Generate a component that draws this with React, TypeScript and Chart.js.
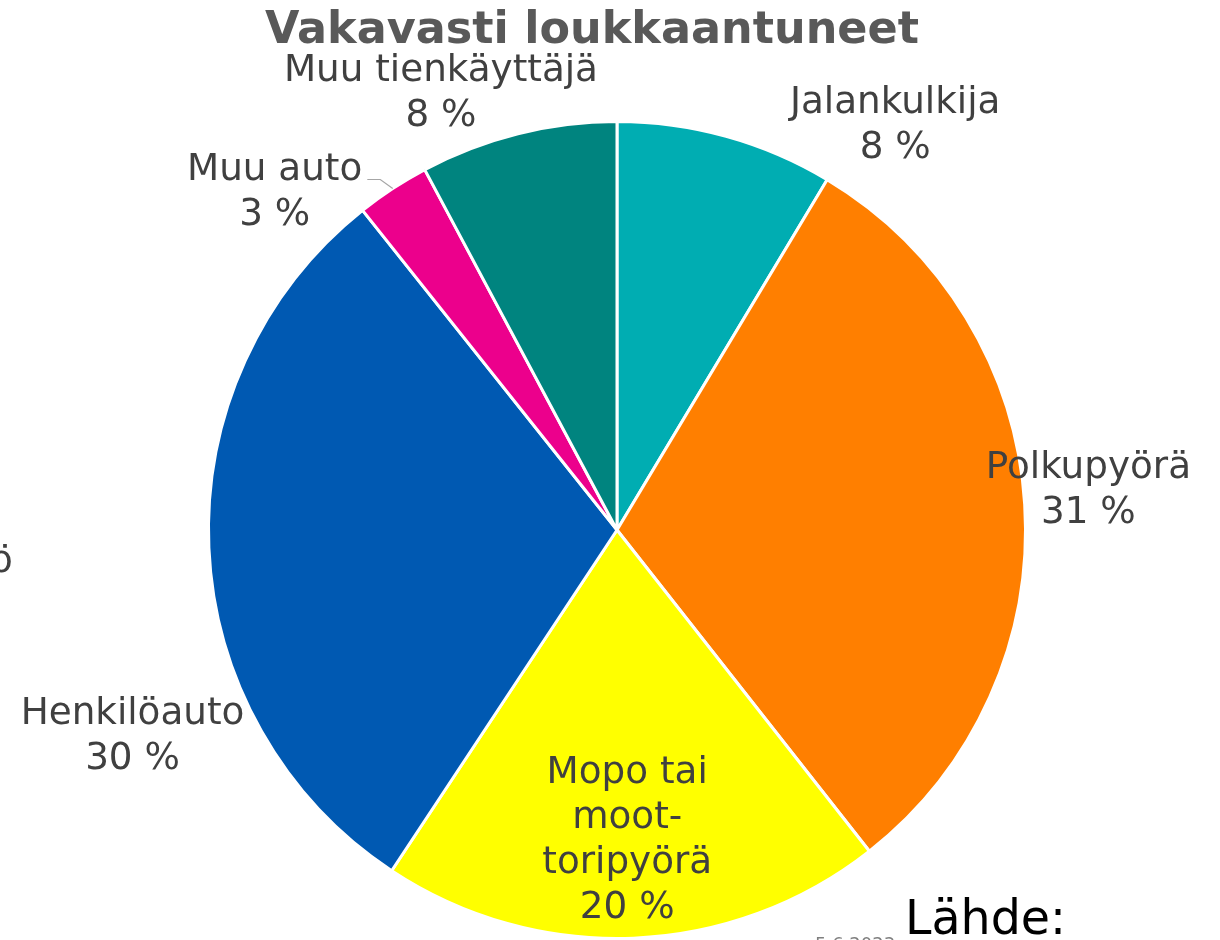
import React, { useEffect, useRef } from "react";
import { Chart, registerables } from "chart.js";

Chart.register(...registerables);

const title = "Vakavasti loukkaantuneet";
const categories = [
  "Jalankulkija",
  "Polkupyörä",
  "Mopo tai moottoripyörä",
  "Henkilöauto",
  "Muu auto",
  "Muu tienkäyttäjä",
];
const labelLines = [
  ["Jalankulkija"],
  ["Polkupyörä"],
  ["Mopo tai", "moot-", "toripyörä"],
  ["Henkilöauto"],
  ["Muu auto"],
  ["Muu tienkäyttäjä"],
];
const shares = [8.6, 30.8, 19.9, 30.0, 2.9, 7.8];
const shareLabels = ["8 %", "31 %", "20 %", "30 %", "3 %", "8 %"];
const colors = ["#00ADB2", "#FF7F00", "#FFFF00", "#0059B2", "#EC008C", "#00847F"];
const sourceText = "Lähde:";
const dateText = "5.6.2023";
const cutLabel = "ö";

// layout: label anchor (center x, first baseline) relative to pie centre, in radius units
const labelOffsets = [
  [0.681, -1.022],
  [1.154, -0.127],
  [0.025, 0.62],
  [-1.186, 0.475],
  [-0.838, -0.858],
  [-0.431, -1.098],
];
const hasLeader = [false, false, false, false, true, false];

const FONT = "'DejaVu Sans', Verdana, sans-serif";

const labelPlugin = {
  id: "labelPlugin",
  afterDraw(chart: any) {
    const ctx = chart.ctx as CanvasRenderingContext2D;
    const meta = chart.getDatasetMeta(0);
    const a0 = meta.data[0] as any;
    const cx = a0.x;
    const cy = a0.y;
    const R = a0.outerRadius;
    ctx.save();
    // title
    ctx.fillStyle = "#595959";
    ctx.font = `bold 44.5px ${FONT}`;
    ctx.textAlign = "center";
    ctx.textBaseline = "alphabetic";
    ctx.fillText(title, cx - 25, 43);

    // data labels
    ctx.font = `37.3px ${FONT}`;
    const lh = 45;
    meta.data.forEach((arc: any, i: number) => {
      const lx = cx + labelOffsets[i][0] * R;
      const ly = cy + labelOffsets[i][1] * R;
      const lines = [...labelLines[i], shareLabels[i]];
      ctx.fillStyle = "#404040";
      ctx.textAlign = "center";
      lines.forEach((t, j) => ctx.fillText(t, lx, ly + j * lh));
      if (hasLeader[i]) {
        const a = (arc.startAngle + arc.endAngle) / 2;
        const px = cx + Math.cos(a) * R;
        const py = cy + Math.sin(a) * R;
        const right = lx + ctx.measureText(labelLines[i][0]).width / 2;
        ctx.strokeStyle = "#A6A6A6";
        ctx.lineWidth = 1.2;
        ctx.beginPath();
        ctx.moveTo(px, py);
        ctx.lineTo(right + 18, ly);
        ctx.lineTo(right + 5, ly);
        ctx.stroke();
      }
    });

    // partial label at left edge
    ctx.fillStyle = "#404040";
    ctx.textAlign = "left";
    ctx.font = `37.3px ${FONT}`;
    ctx.fillText(cutLabel, -10, 572);

    // source text
    ctx.fillStyle = "#000000";
    ctx.font = `47.5px ${FONT}`;
    ctx.fillText(sourceText, 905, 934);
    ctx.fillStyle = "#7F7F7F";
    ctx.font = `18px ${FONT}`;
    ctx.textBaseline = "top";
    ctx.fillText(dateText, 815, 936);
    ctx.restore();
  },
};

export default function App() {
  const ref = useRef<HTMLCanvasElement>(null);
  useEffect(() => {
    if (!ref.current) return;
    const chart = new Chart(ref.current, {
      type: "pie",
      data: {
        labels: categories,
        datasets: [
          {
            data: shares,
            backgroundColor: colors,
            borderColor: "#FFFFFF",
            borderWidth: 3,
          },
        ],
      },
      options: {
        responsive: false,
        animation: false,
        layout: { padding: { top: 120, bottom: 0, left: 14, right: 0 } },
        plugins: {
          legend: { display: false },
          tooltip: { enabled: false },
          title: { display: false },
        },
      },
      plugins: [labelPlugin],
    });
    return () => chart.destroy();
  }, []);
  return (
    <div style={{ position: "absolute", left: 0, top: 0, width: 1220, height: 940, overflow: "hidden", background: "#fff" }}>
      <canvas ref={ref} width={1220} height={940} />
    </div>
  );
}
